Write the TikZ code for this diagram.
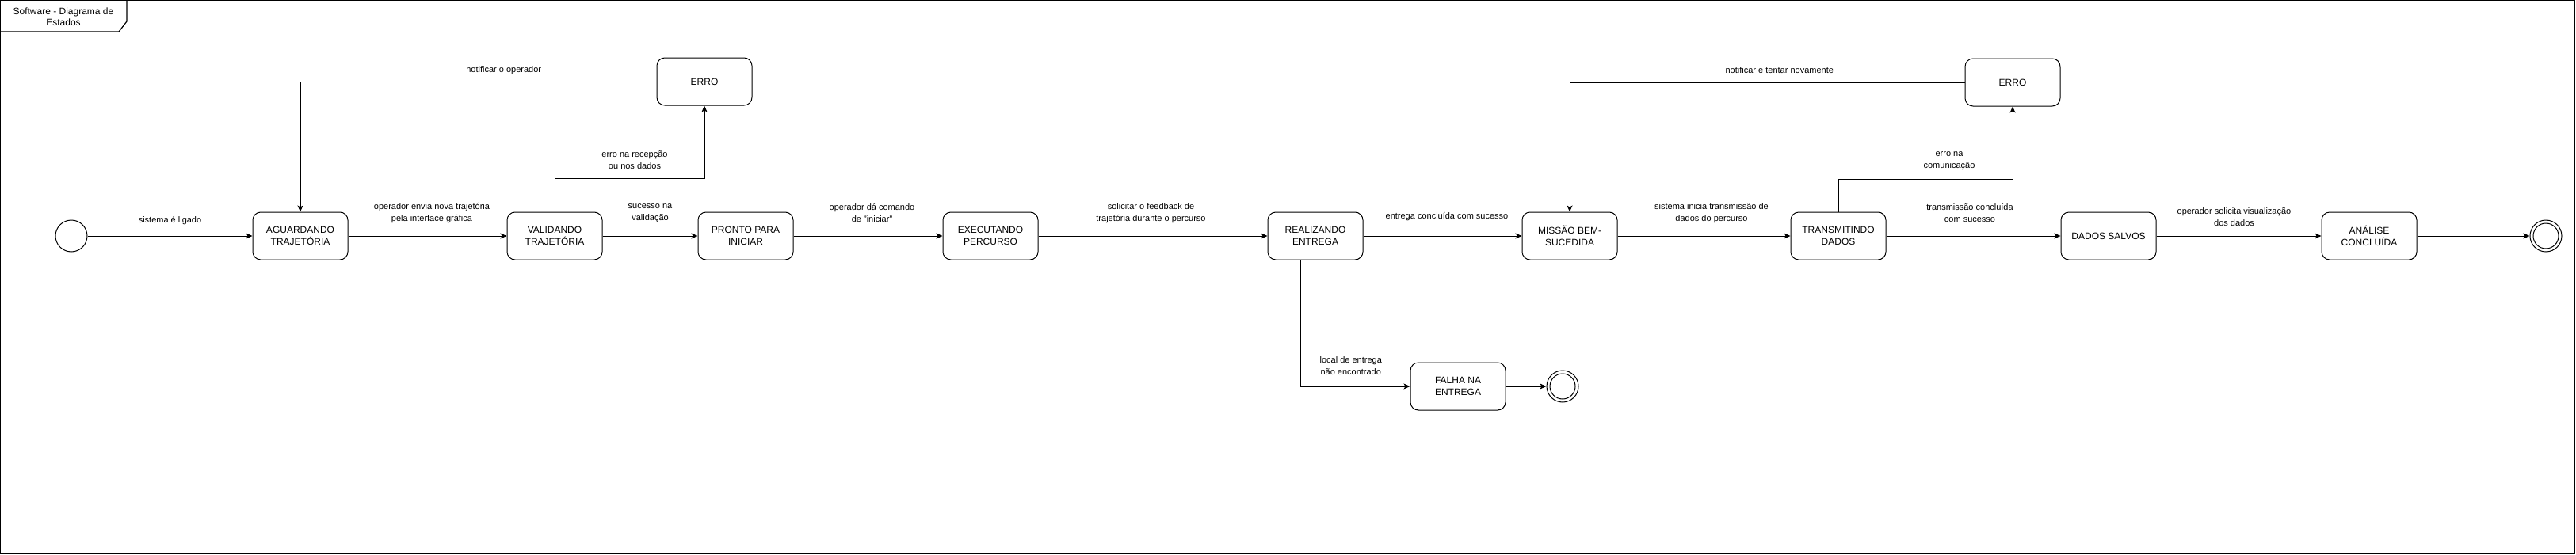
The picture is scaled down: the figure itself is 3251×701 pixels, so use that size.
\documentclass[tikz,border=0pt]{standalone}
\usepackage{fontspec}
\setmainfont{Liberation Sans}
\usetikzlibrary{arrows.meta}

\begin{document}
\begin{tikzpicture}[x=1pt,y=-1pt]
    \tikzset{state/.style = {shape=rectangle,draw,rounded corners=10pt,minimum width=120pt,minimum height=60pt,align=center,font=\fontsize{12}{15}\selectfont,line width=1pt}}
    \tikzset{startstate/.style = {shape=circle,draw,minimum size=40pt,inner sep=0pt,line width=1pt}}
    \tikzset{endstate/.style = {shape=circle,draw,minimum size=40pt,inner sep=0pt,line width=1pt}}
    \tikzset{edge/.style = {-{Stealth[length=8pt,width=7pt,inset=2pt]},line width=1pt}}
    \tikzset{lbl/.style = {align=center,inner sep=0pt,font=\fontsize{11}{15}\selectfont}}
    \useasboundingbox (0,0) rectangle (3251,701);
    % frame and title tab
    \draw[line width=1.2pt] (0.6,0.6) rectangle (3249.5,699.5);
    \draw[line width=1.2pt] (0.6,40) -- (150,40) -- (160,27) -- (160,0.6);
    \node[lbl,font=\fontsize{12}{14.4}\selectfont] (title) at (80,21.5) {Software - Diagrama de\\Estados};
    % states on the main row
    \node[startstate] (inicio) at (90,298) {};
    \node[state] (aguard) at (379,298) {AGUARDANDO\\TRAJETÓRIA};
    \node[state] (valid) at (700,298) {VALIDANDO\\TRAJETÓRIA};
    \node[state] (pronto) at (941,298) {PRONTO PARA\\INICIAR};
    \node[state] (exec) at (1250,298) {EXECUTANDO\\PERCURSO};
    \node[state] (realiz) at (1660,298) {REALIZANDO\\ENTREGA};
    \node[state] (missao) at (1981,298) {MISSÃO BEM-\\SUCEDIDA};
    \node[state] (transm) at (2320,298) {TRANSMITINDO\\DADOS};
    \node[state] (salvos) at (2661,298) {DADOS SALVOS};
    \node[state] (analise) at (2990,298) {ANÁLISE\\CONCLUÍDA};
    \node[endstate] (fim) at (3213,298) {};
    \draw[line width=1pt] (fim.center) circle (16pt);
    % error states on top
    \node[state] (erroval) at (889,103) {ERRO};
    \node[state] (errocom) at (2540,104) {ERRO};
    % failed delivery below
    \node[state] (falha) at (1840,488) {FALHA NA\\ENTREGA};
    \node[endstate] (fimfalha) at (1972,488) {};
    \draw[line width=1pt] (fimfalha.center) circle (16pt);
    % transitions
    \draw[edge] (inicio) -- node[lbl,yshift=19pt] {sistema é ligado} (aguard);
    \draw[edge] (aguard) -- node[lbl,yshift=28.5pt,xshift=5.5pt] {operador envia nova trajetória\\pela interface gráfica} (valid);
    \draw[edge] (valid) -- node[lbl,yshift=28.5pt] {sucesso na\\validação} (pronto);
    \draw[edge] (pronto) -- node[lbl,yshift=28.5pt,xshift=5pt] {operador dá comando\\de "iniciar"} (exec);
    \draw[edge] (exec) -- node[lbl,yshift=28.5pt,xshift=-2.5pt] {solicitar o feedback de\\trajetória durante o percurso} (realiz);
    \draw[edge] (realiz) -- node[lbl,yshift=24pt,xshift=5.5pt] {entrega concluída com sucesso} (missao);
    \draw[edge] (missao) -- node[lbl,yshift=28.5pt,xshift=9.5pt] {sistema inicia transmissão de\\dados do percurso} (transm);
    \draw[edge] (transm) -- node[lbl,yshift=28.5pt,xshift=-4.5pt] {transmissão concluída\\com sucesso} (salvos);
    \draw[edge] (salvos) -- node[lbl,yshift=23.5pt,xshift=-6pt] {operador solicita visualização\\dos dados} (analise);
    \draw[edge] (analise) -- (fim);
    % error loops
    \draw[edge] (valid.north) -- ++(0,-42) -| node[lbl,pos=.25,yshift=23.5pt,xshift=6.5pt] {erro na recepção\\ou nos dados} (erroval.south);
    \draw[edge] (erroval.west) -| node[lbl,pos=.25,yshift=14pt,xshift=32pt] {notificar o operador} (aguard.north);
    \draw[edge] (transm.north) -- ++(0,-41) -| node[lbl,pos=.25,yshift=23.5pt,xshift=30pt] {erro na\\comunicação} (errocom.south);
    \draw[edge] (errocom.west) -| node[lbl,pos=.25,yshift=15pt,xshift=15.5pt] {notificar e tentar novamente} (missao.north);
    % failed delivery
    \draw[edge] ([xshift=-19pt]realiz.south) |- node[lbl,pos=.75,yshift=26pt,xshift=-5.5pt] {local de entrega\\não encontrado} (falha.west);
    \draw[edge] (falha) -- (fimfalha);
\end{tikzpicture}
\end{document}
